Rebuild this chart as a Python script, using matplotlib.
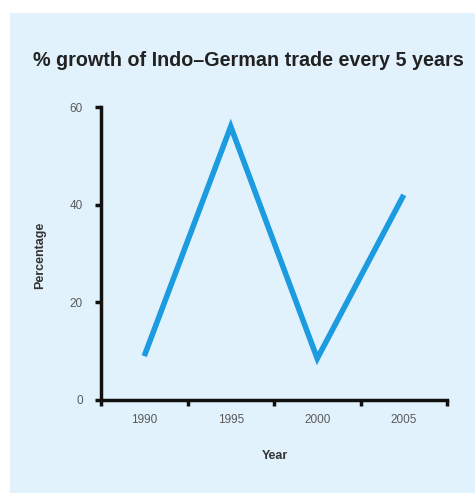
import matplotlib
matplotlib.use("Agg")
import matplotlib.pyplot as plt
from matplotlib.patches import Rectangle
from matplotlib.ticker import FixedLocator, NullFormatter

years = ["1990", "1995", "2000", "2005"]
growth = [9, 56, 8.5, 42]
y_ticks = [0, 20, 40, 60]

plt.rcParams['font.family'] = ['Liberation Sans', 'DejaVu Sans']

W, H = 475, 493
fig = plt.figure(figsize=(W / 100, H / 100), dpi=100)
fig.patch.set_facecolor("white")

# light blue panel behind the chart
fig.patches.append(Rectangle((10 / W, 0), 1 - 10 / W, 1 - 13 / H,
                             transform=fig.transFigure, facecolor="#E1F2FC",
                             edgecolor="none", zorder=-1))

fig.text(33 / W, 1 - 60 / H, "% growth of Indo–German trade every 5 years",
         fontsize=14.2, fontweight="bold", color="#222222", va="center", ha="left")

ax = fig.add_axes([101 / W, 1 - 400 / H, (447 - 101) / W, (400 - 107) / H])
ax.set_zorder(2)
ax.set_facecolor("none")

x = list(range(len(years)))
ax.plot(x, growth, color="#1C9BE0", linewidth=4.0, solid_joinstyle="miter",
        solid_capstyle="butt", zorder=3)

ax.set_xlim(-0.5, len(years) - 0.5)
ax.set_ylim(0, 60)

# category boundaries carry the tick marks, labels sit in the middle
ax.xaxis.set_major_locator(FixedLocator([i - 0.5 for i in range(len(years) + 1)]))
ax.xaxis.set_major_formatter(NullFormatter())
ax.xaxis.set_minor_locator(FixedLocator(x))
ax.set_xticklabels(years, minor=True)
ax.tick_params(axis="x", which="minor", length=0, pad=10, labelsize=8.5, labelcolor="#5a5a5a")
ax.tick_params(axis="x", which="major", length=4, width=2.5, color="#111111")

ax.set_yticks(y_ticks)
ax.tick_params(axis="y", length=4, width=2.5, color="#111111", labelsize=8.5,
               labelcolor="#5a5a5a", pad=9)

for side in ("top", "right"):
    ax.spines[side].set_visible(False)
for side in ("left", "bottom"):
    ax.spines[side].set_linewidth(2.5)
    ax.spines[side].set_color("#111111")
    ax.spines[side].set_capstyle("projecting")

fig.text(275 / W, 1 - 456 / H, "Year", fontsize=9, fontweight="bold",
         color="#333333", ha="center", va="center")
fig.text(40 / W, 1 - 255 / H, "Percentage", fontsize=9, fontweight="bold",
         color="#333333", ha="center", va="center", rotation=90)

fig.savefig("out.png", dpi=100)
